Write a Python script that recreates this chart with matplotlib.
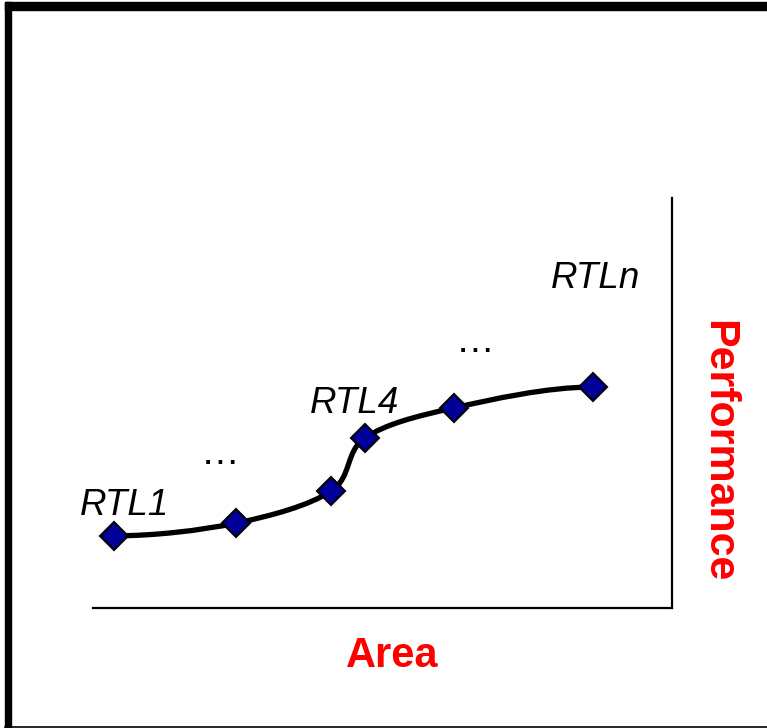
import numpy as np
import matplotlib.pyplot as plt
from matplotlib.path import Path
from matplotlib.patches import PathPatch, Rectangle
from matplotlib.lines import Line2D

# design points (area vs performance, arbitrary units)
area = [0.36, 2.47, 4.11, 4.70, 6.23, 8.64]
perf = [1.76, 2.07, 2.85, 4.15, 4.88, 5.39]

labels = ["RTL1", "RTL4", "RTLn"]
label_x = [-0.22, 3.75, 7.91]
label_y = [2.26, 4.75, 7.8]
dots_x = [2.2, 6.6]
dots_y = [3.5, 6.25]

fig = plt.figure(figsize=(7.67, 7.28), dpi=100)
ax = fig.add_axes([93 / 767, 120 / 728, 579 / 767, 410 / 728])
ax.set_xlim(0, 10)
ax.set_ylim(0, 10)

# smooth curve through the points (cubic bezier, flat at both ends)
pts = np.column_stack([area, perf])
n = len(pts)
tang = np.zeros_like(pts)
for i in range(1, n - 1):
    tang[i] = (pts[i + 1] - pts[i - 1]) / 2
tang[0] = [pts[1, 0] - pts[0, 0], 0]
tang[-1] = [pts[-1, 0] - pts[-2, 0], 0]
ext = 0.18
verts = [pts[0] - [ext, 0], pts[0]]
codes = [Path.MOVETO, Path.LINETO]
for i in range(n - 1):
    verts += [pts[i] + tang[i] / 3, pts[i + 1] - tang[i + 1] / 3, pts[i + 1]]
    codes += [Path.CURVE4] * 3
verts.append(pts[-1] + [ext, 0])
codes.append(Path.LINETO)
ax.add_patch(PathPatch(Path(verts, codes), fill=False, lw=3.8, color="black",
                       capstyle="butt", zorder=2))

ax.plot(area, perf, ls="none", marker="D", ms=14, mfc="#000099", mec="black",
        mew=1.5, zorder=3)

for t, x, y in zip(labels, label_x, label_y):
    ax.text(x, y, t, fontsize=26.5, style="italic", family="Liberation Sans",
            ha="left", va="baseline")
for x, y in zip(dots_x, dots_y):
    ax.text(x, y, "\u2026", fontsize=28, family="Liberation Sans",
            ha="center", va="baseline")

for s in ["top", "left"]:
    ax.spines[s].set_visible(False)
for s in ["bottom", "right"]:
    ax.spines[s].set_linewidth(1.6)
ax.set_xticks([])
ax.set_yticks([])
ax.patch.set_alpha(0)

fig.text(392 / 767, 1 - 656 / 728, "Area", color="red", fontsize=30,
         fontweight="bold", family="Liberation Sans", ha="center", va="center")
fig.text(718 / 767, 1 - 451 / 728, "Performance", color="red", fontsize=31,
         fontweight="bold", family="Liberation Sans", rotation=270,
         ha="center", va="center")

# outer frame
fig.add_artist(Rectangle((5 / 767, 1 - 10 / 728), 1, 8 / 728, color="black",
                         transform=fig.transFigure))
fig.add_artist(Rectangle((5 / 767, 0), 6 / 767, 1 - 2 / 728, color="black",
                         transform=fig.transFigure))
fig.add_artist(Line2D([5 / 767, 1], [0.8 / 728, 0.8 / 728], color="black",
                      lw=1.2, transform=fig.transFigure))

fig.savefig("out.png", dpi=100)
